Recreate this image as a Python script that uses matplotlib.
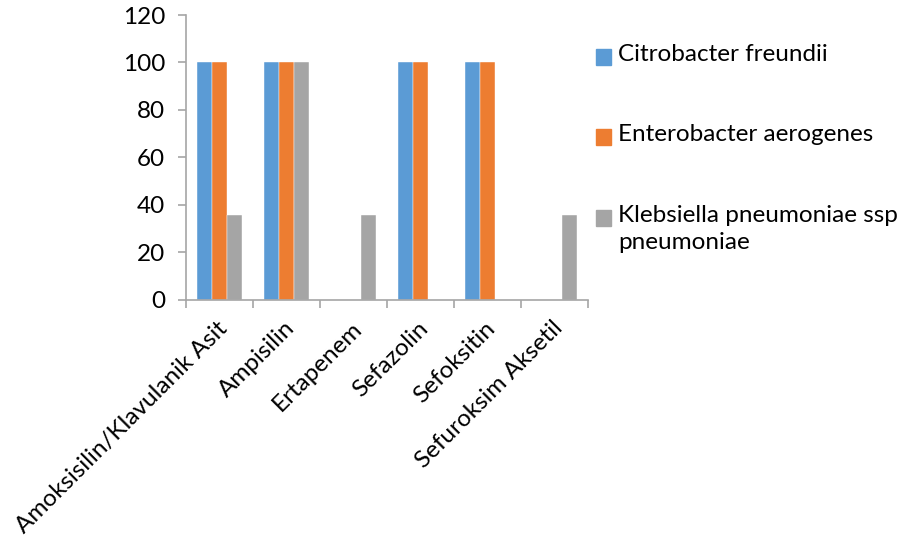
import numpy as np
import matplotlib.pyplot as plt
from matplotlib.patches import Rectangle

antibiotics = ['Amoksisilin/Klavulanik Asit', 'Ampisilin', 'Ertapenem',
               'Sefazolin', 'Sefoksitin', 'Sefuroksim Aksetil']
series_names = ['Citrobacter freundii', 'Enterobacter aerogenes',
                'Klebsiella pneumoniae ssp\npneumoniae']
citrobacter = [100, 100, 0, 100, 100, 0]
enterobacter = [100, 100, 0, 100, 100, 0]
klebsiella = [35.7, 100, 35.7, 0, 0, 35.7]
colors = ['#5B9BD5', '#ED7D31', '#A5A5A5']

plt.rcParams['font.family'] = ['Lato', 'DejaVu Sans']
FS = 17.5
W, H = 909, 549
fig = plt.figure(figsize=(W / 100, H / 100), dpi=100)
ax = fig.add_axes([186 / W, 1 - 299.5 / H, (588 - 186) / W, (299.5 - 15) / H])

x = np.arange(len(antibiotics))
bw = 1 / 4.5
for i, (vals, c) in enumerate(zip([citrobacter, enterobacter, klebsiella], colors)):
    ax.bar(x + (i - 1) * bw, vals, width=bw, color=c, edgecolor='white', linewidth=0.3)

axis_col = '#A6A6A6'
ax.set_xlim(-0.5, len(antibiotics) - 0.5)
ax.set_ylim(0, 120)
ax.set_yticks(range(0, 121, 20))
ax.set_xticks(np.arange(len(antibiotics) + 1) - 0.5)
ax.set_xticklabels([])
for s in ['top', 'right']:
    ax.spines[s].set_visible(False)
for s in ['left', 'bottom']:
    ax.spines[s].set_color(axis_col)
    ax.spines[s].set_linewidth(1.2)
ax.tick_params(axis='both', color=axis_col, length=6, width=1.2)
ax.tick_params(axis='y', labelsize=FS, pad=9)

# rotated category labels, anchored at the category centres
for xi, name in zip(x, antibiotics):
    ax.annotate(name, (xi, 0), xytext=(-2, -13), textcoords='offset points',
                rotation=45, ha='right', va='top', fontsize=FS,
                rotation_mode='anchor')

# legend on the right
legend_y = [57, 137, 218]
for name, c, yy in zip(series_names, colors, legend_y):
    fig.patches.append(Rectangle((596 / W, 1 - (yy + 7.5) / H), 15 / W, 15 / H,
                                 transform=fig.transFigure, color=c))
    fig.text(618 / W, 1 - (yy - 13) / H, name, fontsize=FS, va='top',
             ha='left', linespacing=1.35)

fig.savefig('out.png', dpi=100)
